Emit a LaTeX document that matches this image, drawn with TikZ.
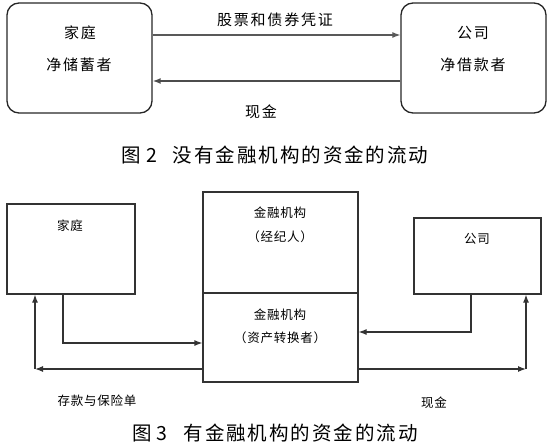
\documentclass[tikz,border=0pt]{standalone}
\usepackage{fontspec}
\setmainfont{Noto Sans CJK SC}
\newfontfamily\afont[LetterSpace=12]{Noto Sans CJK SC}
\newfontfamily\bfont[LetterSpace=6]{Noto Sans CJK SC}
\newfontfamily\cfont[LetterSpace=10]{Noto Sans CJK SC}
\usetikzlibrary{arrows.meta,calc}
\tikzset{
  rbox/.style={draw=black!85,line width=1.3pt,rounded corners=12pt,inner sep=0pt},
  sbox/.style={draw=black!80,line width=1.2pt,inner sep=0pt},
  txtA/.style={font=\afont\fontsize{15pt}{17pt}\selectfont,text=black,inner sep=0pt},
  txtB/.style={font=\bfont\fontsize{12.5pt}{14pt}\selectfont,text=black,inner sep=0pt},
  capt/.style={font=\cfont\fontsize{19.5pt}{22pt}\selectfont,text=black,inner sep=0pt},
  arr/.style={line width=1.2pt,draw=black!80,-{Latex[length=8pt,width=6pt]}},
  ln/.style={line width=1.2pt,draw=black!80}
}
\begin{document}
\begin{tikzpicture}[x=1pt,y=-1pt]
\useasboundingbox (0,0) rectangle (558,447);
% ---------- Figure 2 ----------
\node[rbox,minimum width=145pt,minimum height=110pt] (hh) at (79.5,58) {};
\node[rbox,minimum width=145pt,minimum height=110pt] (co) at (473.5,58) {};
\node[txtA] (hh1) at (80,33) {家庭};
\node[txtA] (hh2) at (79,65) {净储蓄者};
\node[txtA] (co1) at (473,33) {公司};
\node[txtA] (co2) at (473,65) {净借款者};
\draw[arr,draw=black!65] ([yshift=23pt]hh.east) -- ([yshift=23pt]co.west);
\draw[arr,line width=2pt,draw=black!70] ([yshift=-23pt]co.west) -- ([yshift=-23pt]hh.east);
\node[txtA] (stk) at (275,20) {股票和债券凭证};
\node[txtA] (cash1) at (261,112) {现金};
\node[capt] (cap2) at (275,155) {图\hspace{5pt}2\hspace{16pt}没有金融机构的资金的流动};
% ---------- Figure 3 ----------
\node[sbox,minimum width=128pt,minimum height=90pt] (fam) at (71,249) {};
\node[sbox,minimum width=155pt,minimum height=101pt] (fin1) at (280.5,242.5) {};
\node[sbox,minimum width=155pt,minimum height=89pt] (fin2) at (280.5,337.5) {};
\node[sbox,minimum width=127pt,minimum height=76pt] (com) at (477.5,256) {};
\node[txtB] (famt) at (70,226) {家庭};
\node[txtB] (comt) at (477,239) {公司};
\node[txtB] (f1a) at (280,213) {金融机构};
\node[txtB] (f1b) at (280,237) {（经纪人）};
\node[txtB] (f2a) at (280,315) {金融机构};
\node[txtB] (f2b) at (280,338) {（资产转换者）};
\coordinate (a1) at (63,343);
\coordinate (c1) at (35,369);
\coordinate (a2) at (471,332);
\coordinate (c2) at (526,369);
\draw[arr] (fam.south -| a1) -- (a1) -- (a1 -| fin2.west);
\draw[arr] (c1 -| fin2.west) -- (c1);
\draw[arr] (c1) -- (c1 |- fam.south);
\draw[arr] (com.south -| a2) -- (a2) -- (a2 -| fin2.east);
\draw[arr] (c2 -| fin2.east) -- (c2);
\draw[arr] (c2) -- (c2 |- com.south);
\node[txtB] (dep) at (97,401) {存款与保险单};
\node[txtB] (cash2) at (434,403) {现金};
\node[capt] (cap3) at (275,433) {图\hspace{5pt}3\hspace{16pt}有金融机构的资金的流动};
\end{tikzpicture}
\end{document}
